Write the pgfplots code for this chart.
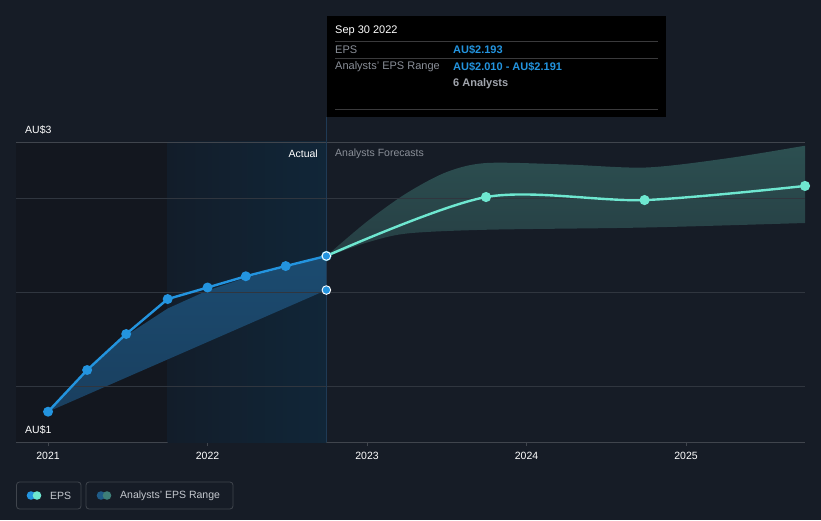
\documentclass[border=0pt]{standalone}
\usepackage{pgfplots}
\pgfplotsset{compat=1.18}
\usepackage{fontspec}
\setmainfont{Liberation Sans}
\definecolor{bg}{HTML}{161C26}
\definecolor{darkreg}{HTML}{13171F}
\definecolor{bluereg1}{HTML}{121D2A}
\definecolor{bluereg2}{HTML}{112638}
\definecolor{hover}{HTML}{1F3A55}
\definecolor{gridc}{HTML}{30363F}
\definecolor{axisc}{HTML}{40454D}
\definecolor{epsblue}{HTML}{2394DF}
\definecolor{bluearea}{HTML}{1B4B70}
\definecolor{bluearea2}{HTML}{1A3F5F}
\definecolor{teal}{HTML}{6EE7D0}
\definecolor{greenarea}{HTML}{2D5253}
\definecolor{greenarea2}{HTML}{263E43}
\definecolor{txtgray}{HTML}{8A8F98}
\definecolor{lgtxt}{HTML}{C5C9CF}
\definecolor{sep}{HTML}{3A3A3C}
\definecolor{rangeblue}{HTML}{1F5B87}
\definecolor{rangeteal}{HTML}{3E7F78}
\begin{document}
\begin{tikzpicture}[x=1pt,y=1pt,font=\fontsize{10.5}{12}\selectfont]
\fill[bg] (0,0) rectangle (821,520);
\path[use as bounding box] (0,0) rectangle (821,520);
% hover line (upper part, above plot area)
\draw[hover, line width=1pt] (326.5,378) -- (326.5,403);
\begin{axis}[
  at={(16pt,78pt)}, anchor=south west,
  scale only axis, width=789pt, height=300pt,
  xmin=2020.799, xmax=2025.746, ymin=1, ymax=3,
  axis x line*=bottom, axis y line=none,
  x axis line style={draw=axisc, line width=1pt, -},
  xtick={2021,2022,2023,2024,2025},
  xticklabels={2021,2022,2023,2024,2025},
  ytick=\empty,
  tick align=outside,
  major tick length=4pt,
  xtick style={draw=axisc, line width=0.8pt},
  xticklabel style={text=white, font=\fontsize{10.5}{12}\selectfont, yshift=-2.5pt},
]
% background regions
\fill[darkreg] (axis cs:2020.799,1) rectangle (axis cs:2021.75,3);
\fill[left color=bluereg1, right color=bluereg2] (axis cs:2021.75,1) rectangle (axis cs:2022.745,3);
% analysts range (past) area
\addplot[draw=none, top color=bluearea, bottom color=bluearea2] coordinates {
 (2021.0,1.202) (2021.245,1.47) (2021.49,1.71) (2021.75,1.89) (2022.0,2.01)
 (2022.24,2.095) (2022.49,2.165) (2022.745,2.24) (2022.745,2.013)
} --cycle;
% forecast range area
\addplot[draw=none, smooth, top color=greenarea, bottom color=greenarea2] coordinates {
 (2022.745,2.24) (2023.0,2.47) (2023.25,2.66) (2023.5,2.80) (2023.75,2.86)
 (2024.25,2.85) (2024.75,2.83) (2025.25,2.89) (2025.746,2.975) (2026.0,3.02)
 (2026.0,2.47) (2025.746,2.46) (2024.75,2.43) (2023.75,2.415) (2023.25,2.39)
 (2023.0,2.33) (2022.8,2.255)
} --cycle;
% gridlines
\foreach \g in {1.373,2,2.627} {
  \edef\tmp{\noexpand\draw[gridc, line width=0.8pt] (axis cs:2020.799,\g) -- (axis cs:2025.746,\g);}
  \tmp
}
\draw[axisc, line width=0.8pt] (axis cs:2020.799,3) -- (axis cs:2025.746,3);
% hover line
\draw[hover, line width=1pt] (axis cs:2022.745,1) -- (axis cs:2022.745,3);
% forecast EPS line
\addplot[teal, line width=2.4pt, smooth, mark=*, mark size=3.8pt, mark options={fill=teal, draw=none}] coordinates {
 (2022.745,2.24) (2023.746,2.633) (2024.74,2.613) (2025.746,2.707)
};
% actual EPS
\addplot[epsblue, line width=2.4pt, mark=*, mark size=3.7pt, mark options={fill=epsblue, draw=none}] coordinates {
 (2021.0,1.202) (2021.245,1.48) (2021.49,1.72) (2021.75,1.953) (2022.0,2.03)
 (2022.24,2.105) (2022.49,2.173) (2022.745,2.24)
};
\addplot[only marks, mark=*, mark size=4.3pt, mark options={fill=epsblue, draw=white, line width=0.9pt}] coordinates {
 (2022.745,2.24) (2022.745,2.013)
};
\end{axis}
% y labels
\node[anchor=west, text=white, inner sep=0] at (25,390) {AU\$3};
\node[anchor=west, text=white, inner sep=0] at (25,90) {AU\$1};
\node[anchor=east, text=white, inner sep=0] at (318,366) {Actual};
\node[anchor=west, text=txtgray, inner sep=0] at (335,366) {Analysts Forecasts};
% tooltip
\fill[black] (327,403) rectangle (666,504);
\draw[sep, line width=0.8pt] (335,479) -- (658,479);
\draw[sep, line width=0.8pt] (335,462) -- (658,462);
\draw[sep, line width=0.8pt] (335,411) -- (658,411);
\node[anchor=west, text=white, inner sep=0, font=\fontsize{11}{13}\selectfont] at (335,489) {Sep 30 2022};
\node[anchor=west, text=txtgray, inner sep=0, font=\fontsize{11}{13}\selectfont] at (335,470.5) {EPS};
\node[anchor=west, text=epsblue, inner sep=0, font=\fontsize{11}{13}\selectfont\bfseries] at (453,470.5) {AU\$2.193};
\node[anchor=west, text=txtgray, inner sep=0, font=\fontsize{11}{13}\selectfont] at (335,453.5) {Analysts' EPS Range};
\node[anchor=west, text=epsblue, inner sep=0, font=\fontsize{11}{13}\selectfont\bfseries] at (453,453.5) {AU\$2.010 - AU\$2.191};
\node[anchor=west, text=txtgray!80!white, inner sep=0, font=\fontsize{11}{13}\selectfont\bfseries] at (453,436.5) {6 Analysts};
% legend
\draw[axisc, line width=0.8pt, rounded corners=3pt] (16.5,11) rectangle (81,38);
\fill[epsblue] (31,24.5) circle (4.3);
\fill[teal] (37,24.5) circle (4.3);
\node[anchor=west, text=lgtxt, inner sep=0] at (50,24.5) {EPS};
\draw[axisc, line width=0.8pt, rounded corners=3pt] (86,11) rectangle (233,38);
\fill[rangeblue] (101,24.5) circle (4.3);
\fill[rangeteal] (107,24.5) circle (4.3);
\node[anchor=west, text=lgtxt, inner sep=0] at (120,24.5) {Analysts' EPS Range};
\end{tikzpicture}
\end{document}
